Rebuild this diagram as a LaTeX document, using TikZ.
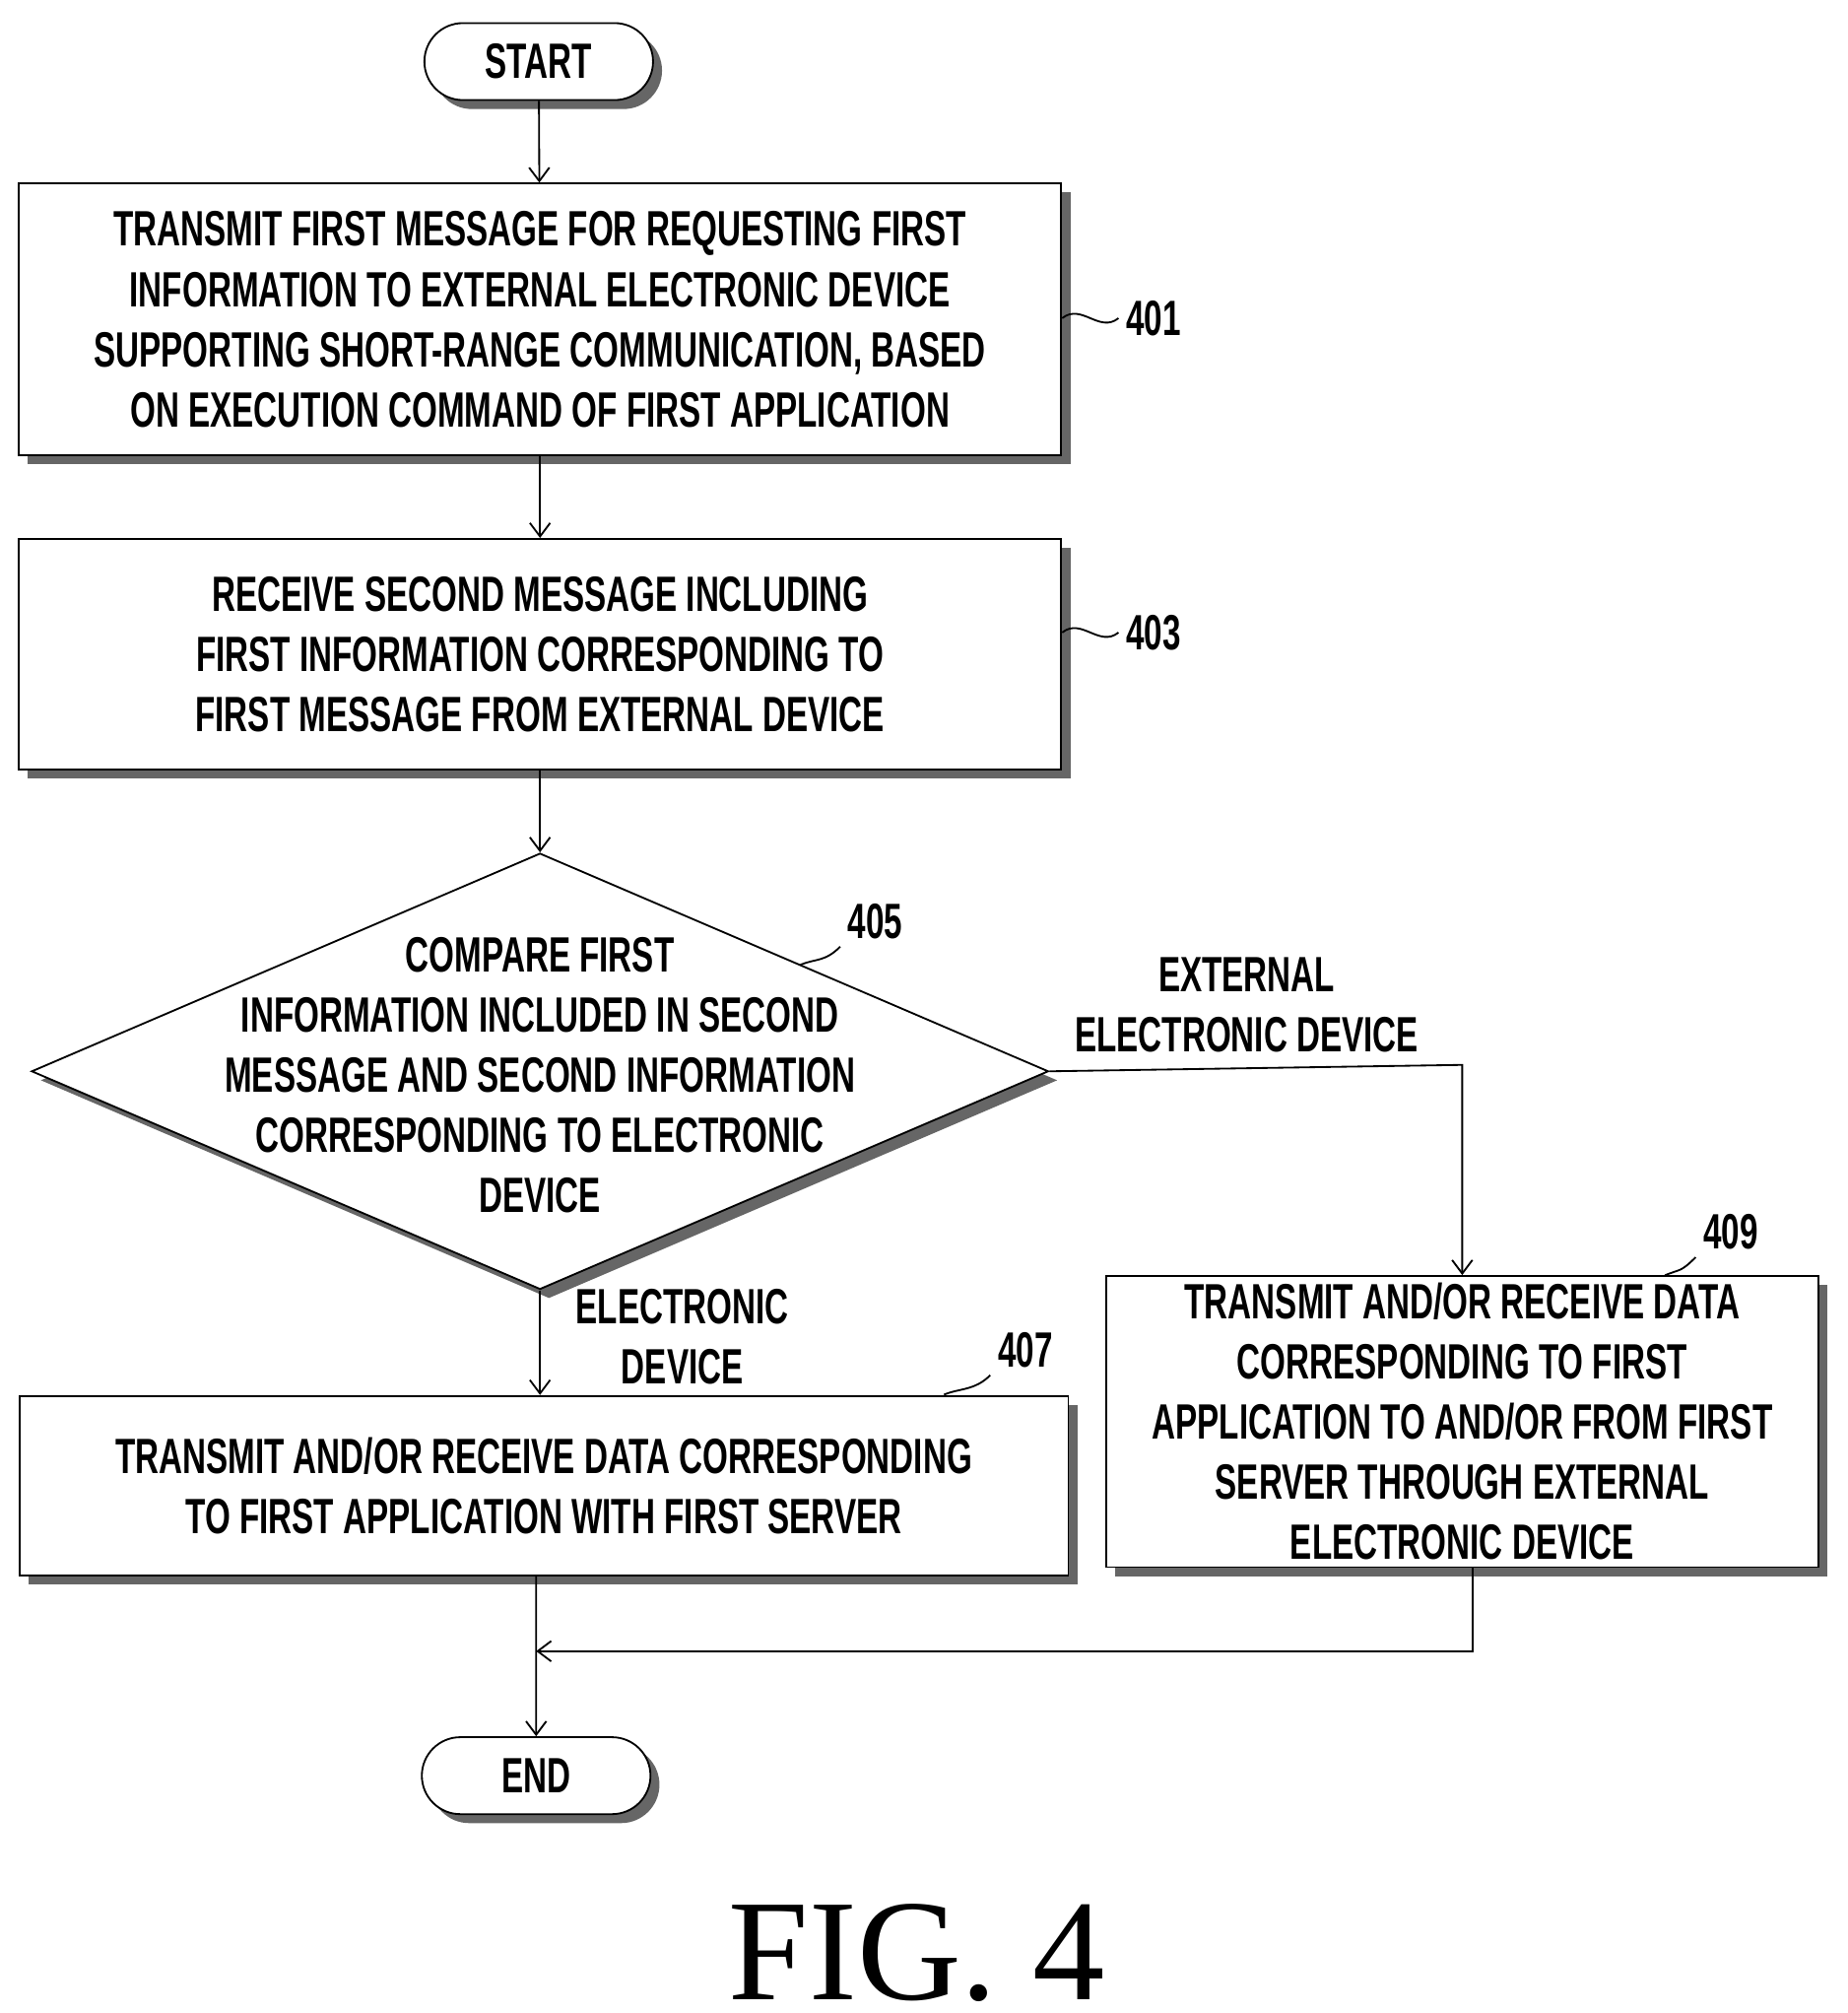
\documentclass[tikz,border=0pt]{standalone}
\usepackage{fontspec}
\setmainfont{Liberation Sans}[FakeStretch=0.66]
\newfontfamily\figfont{Liberation Serif}
\usetikzlibrary{shapes.geometric,shapes.misc,shadows,arrows.meta}
\begin{document}
\begin{tikzpicture}[x=0.02cm,y=-0.02cm,
  font=\fontsize{22}{26.7}\selectfont\bfseries,
  boxshadow/.style={drop shadow={shadow xshift=0.14cm,shadow yshift=-0.14cm,fill=black!60,opacity=1}},
  stepbox/.style={draw,thick,fill=white,boxshadow,align=center,inner sep=0pt},
  term/.style={draw,thick,fill=white,boxshadow,rounded rectangle,minimum width=3.8cm,minimum height=1.2cm},
  flow/.style={thick,-{Straight Barb[length=6pt,width=9pt]}},
  ref/.style={font=\fontsize{22}{22}\selectfont\bfseries}]
\useasboundingbox (0,0) rectangle (1440,1569);
% boxes
\node (start) [term] at (420,48) {START};
\node (s401) [stepbox,minimum width=16.26cm,minimum height=4.24cm] at (421,249)
  {TRANSMIT FIRST MESSAGE FOR REQUESTING FIRST\\INFORMATION TO EXTERNAL ELECTRONIC DEVICE\\SUPPORTING SHORT-RANGE COMMUNICATION, BASED\\ON EXECUTION COMMAND OF FIRST APPLICATION};
\node (s403) [stepbox,minimum width=16.26cm,minimum height=3.6cm] at (421,510)
  {RECEIVE SECOND MESSAGE INCLUDING\\FIRST INFORMATION CORRESPONDING TO\\FIRST MESSAGE FROM EXTERNAL DEVICE};
\node (s405) [stepbox,diamond,minimum width=15.86cm,minimum height=6.8cm] at (421,835) {};
\node (t405) [align=center] at (421,838)
  {COMPARE FIRST\\INFORMATION INCLUDED IN SECOND\\MESSAGE AND SECOND INFORMATION\\CORRESPONDING TO ELECTRONIC\\DEVICE};
\node (s407) [stepbox,minimum width=16.36cm,minimum height=2.8cm] at (424,1158)
  {TRANSMIT AND/OR RECEIVE DATA CORRESPONDING\\TO FIRST APPLICATION WITH FIRST SERVER};
\node (s409) [stepbox,minimum width=11.1cm,minimum height=4.54cm] at (1140,1108)
  {TRANSMIT AND/OR RECEIVE DATA\\CORRESPONDING TO FIRST\\APPLICATION TO AND/OR FROM FIRST\\SERVER THROUGH EXTERNAL\\ELECTRONIC DEVICE};
\node (end) [term] at (418,1384) {END};
% reference numerals
\node (r401) [ref,anchor=west] at (872,248) {401};
\node (r403) [ref,anchor=west] at (872,493) {403};
\node (r405) [ref,anchor=west] at (655,718) {405};
\node (r407) [ref,anchor=west] at (772,1052) {407};
\node (r409) [ref,anchor=west] at (1322,960) {409};
\draw [thick] (s401.east |- r401) .. controls +(15,-12) and +(-15,12) .. (r401.west);
\draw [thick] (s403.east |- r403) .. controls +(15,-12) and +(-15,12) .. (r403.west);
\draw [thick] (624,752) .. controls +(12,-5) and +(-12,12) .. (r405.south west);
\draw [thick] (736,1087) .. controls +(12,-5) and +(-12,12) .. (r407.south west);
\draw [thick] (1298,994) .. controls +(12,-5) and +(-12,12) .. (r409.south west);
% branch labels
\node (lext) [align=center] at (972,783) {EXTERNAL\\ELECTRONIC DEVICE};
\node (lel) [align=center] at (532,1042) {ELECTRONIC\\DEVICE};
\coordinate (turn) at (1140,830);
\coordinate (join) at (1148,1287);
% connectors
\draw [flow] (start) -- (s401);
\draw [flow] (s401) -- (s403);
\draw [flow] (s403) -- (s405.north);
\draw [flow] (s405.south) -- (s407.north -| s405.south);
\draw [flow] (s405.east) -- (turn) -- (s409.north);
\draw [flow] (s407.south -| end) -- (end);
\draw [flow] (s409.south -| join) -- (join) -- (end.north |- join);
\node (fig) [font=\figfont\fontsize{64}{64}\selectfont] at (715,1522) {FIG. 4};
\end{tikzpicture}
\end{document}
